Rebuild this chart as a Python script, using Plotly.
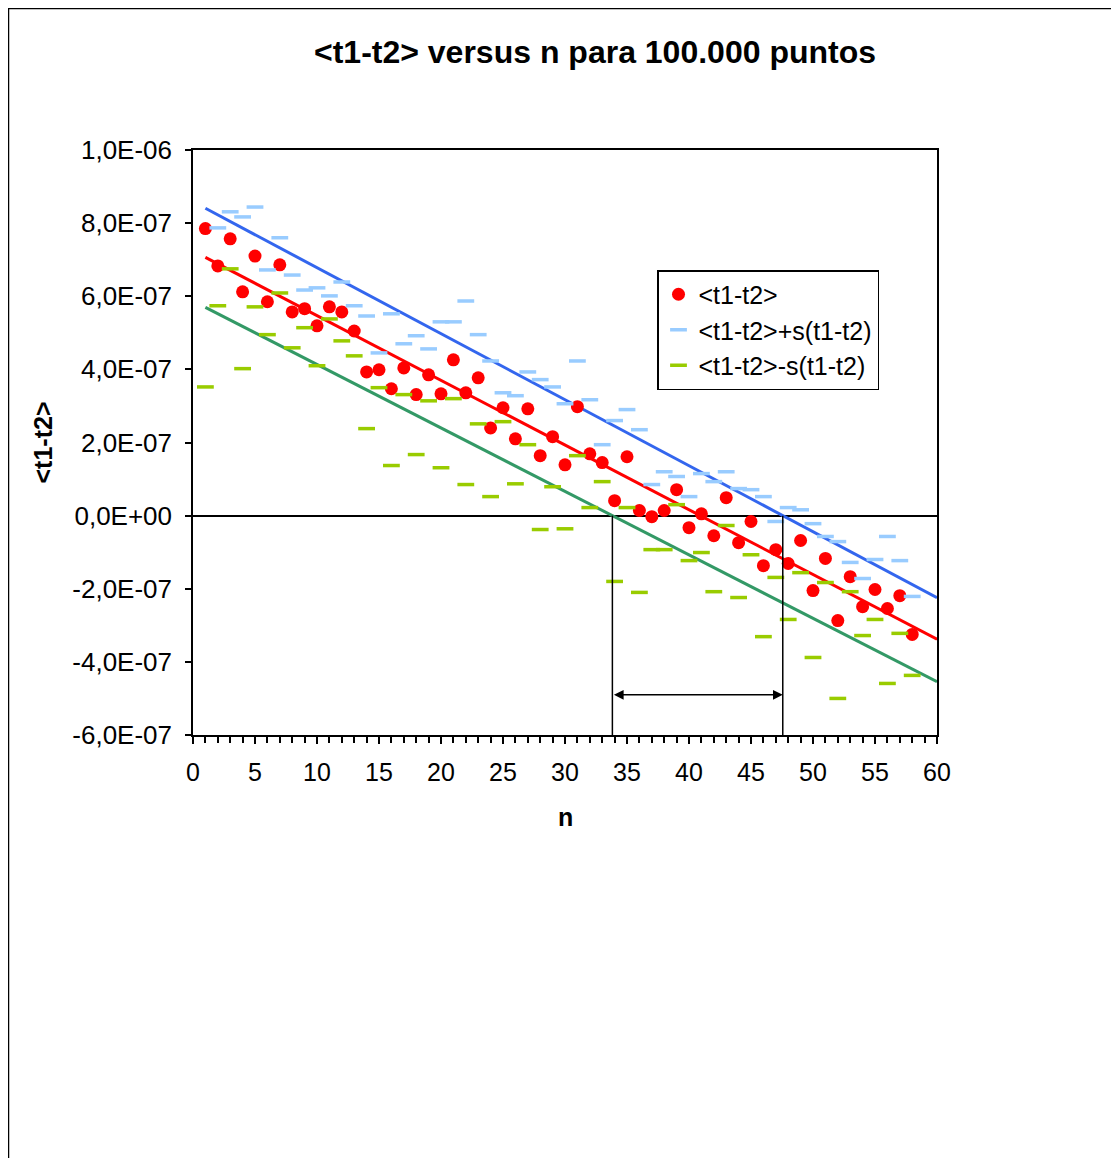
import numpy as np
import plotly.graph_objects as go

# ---- data (values in units of 1E-6) ----
n = list(range(1, 59))
mean_vals = [0.785, 0.683, 0.757, 0.612, 0.710, 0.585, 0.686, 0.557, 0.566, 0.519,
             0.571, 0.557, 0.505, 0.393, 0.399, 0.347, 0.404, 0.331, 0.385, 0.333,
             0.426, 0.336, 0.377, 0.240, 0.295, 0.210, 0.292, 0.164, 0.216, 0.139,
             0.298, 0.169, 0.145, 0.041, 0.161, 0.014, -0.003, 0.014, 0.071, -0.033,
             0.005, -0.055, 0.049, -0.074, -0.016, -0.137, -0.093, -0.131, -0.068, -0.205,
             -0.117, -0.287, -0.167, -0.249, -0.202, -0.254, -0.219, -0.325]
upper_vals = [1.218, 0.787, 0.831, 0.817, 0.844, 0.672, 0.760, 0.658, 0.617, 0.623,
              0.601, 0.639, 0.574, 0.546, 0.445, 0.552, 0.470, 0.492, 0.456, 0.530,
              0.530, 0.587, 0.495, 0.423, 0.336, 0.328, 0.393, 0.372, 0.352, 0.306,
              0.423, 0.317, 0.194, 0.260, 0.290, 0.235, 0.085, 0.120, 0.107, 0.052,
              0.115, 0.093, 0.120, 0.074, 0.071, 0.052, -0.016, 0.022, 0.016, -0.022,
              -0.057, -0.071, -0.128, -0.172, -0.120, -0.057, -0.123, -0.221]
lower_vals = [0.352, 0.574, 0.675, 0.402, 0.571, 0.495, 0.609, 0.459, 0.514, 0.410,
              0.538, 0.478, 0.437, 0.238, 0.350, 0.137, 0.331, 0.167, 0.314, 0.131,
              0.320, 0.085, 0.251, 0.052, 0.257, 0.087, 0.194, -0.038, 0.079, -0.036,
              0.164, 0.022, 0.093, -0.180, 0.022, -0.210, -0.093, -0.093, 0.030, -0.123,
              -0.101, -0.208, -0.027, -0.224, -0.107, -0.331, -0.169, -0.284, -0.156, -0.388,
              -0.183, -0.500, -0.208, -0.328, -0.284, -0.459, -0.322, -0.437]
scale = 1e-6

y_tickvals = [1.0e-6, 8.0e-7, 6.0e-7, 4.0e-7, 2.0e-7, 0.0, -2.0e-7, -4.0e-7, -6.0e-7]
y_ticktext = ["1,0E-06", "8,0E-07", "6,0E-07", "4,0E-07", "2,0E-07", "0,0E+00",
              "-2,0E-07", "-4,0E-07", "-6,0E-07"]
x_tickvals = list(range(0, 61, 5))

arrow_y = -4.9e-7
trend_end = 60

nx = np.array(n, dtype=float)
mean = np.array(mean_vals) * scale
upper = np.array(upper_vals) * scale
lower = np.array(lower_vals) * scale


def fit(y):
    m, b = np.polyfit(nx, y, 1)
    return m, b


font_family = "Liberation Sans, Arial, sans-serif"

# page offset of the figure inside the browser page (body margin)
OFF = 8
W, H = 1119, 1158
PL, PR, PT, PB = 193 - OFF, 937 - OFF, 150 - OFF, 735 - OFF   # plot area in figure px
PW, PH = PR - PL, PB - PT

fig = go.Figure()

xt = np.array([1.0, trend_end])
fits = {}
for key, y, col in [("upper", upper, "#3366EE"), ("mean", mean, "#FF0000"), ("lower", lower, "#339966")]:
    m, b = fit(y)
    fits[key] = (m, b)
    fig.add_trace(go.Scatter(x=xt, y=m * xt + b, mode="lines",
                             line=dict(color=col, width=3), showlegend=False,
                             hoverinfo="skip"))

fig.add_trace(go.Scatter(x=n, y=mean, mode="markers", name="<t1-t2>",
                         marker=dict(color="#FF0000", size=13, symbol="circle")))
fig.add_trace(go.Scatter(x=n, y=upper, mode="markers", name="<t1-t2>+s(t1-t2)",
                         marker=dict(symbol="line-ew", size=12,
                                     line=dict(color="#99CCFF", width=3.5))))
fig.add_trace(go.Scatter(x=n, y=lower, mode="markers", name="<t1-t2>-s(t1-t2)",
                         marker=dict(symbol="line-ew", size=12,
                                     line=dict(color="#99CC00", width=3.5))))

# zero crossings of the lower and upper trendlines
xg = -fits["lower"][1] / fits["lower"][0]
xb = -fits["upper"][1] / fits["upper"][0]

shapes = []
for xv in (xg, xb):
    shapes.append(dict(type="line", xref="x", yref="y", x0=xv, x1=xv, y0=0, y1=-6e-7,
                       line=dict(color="black", width=1.5)))
# outer chart border (figure px -> paper coords)
bx0, bx1, by0, by1 = 0, W + 10, H + 10, 0
shapes.append(dict(type="rect", xref="paper", yref="paper",
                   x0=(bx0 - PL) / PW, x1=(bx1 - PL) / PW,
                   y0=(PB - by0) / PH, y1=(PB - by1) / PH,
                   line=dict(color="black", width=2.5)))

annotations = [
    dict(x=xb, y=arrow_y, ax=xg, ay=arrow_y, xref="x", yref="y", axref="x", ayref="y",
         text="", showarrow=True, arrowhead=2, arrowside="end+start", arrowsize=1.3,
         arrowwidth=1.5, arrowcolor="black", standoff=0, startstandoff=0),
    dict(text="<b>&lt;t1-t2&gt;</b>", xref="paper", yref="paper",
         x=(42 - 193) / 744, y=0.5, textangle=-90, showarrow=False,
         font=dict(family=font_family, size=25, color="black"),
         xanchor="center", yanchor="middle"),
    dict(text="<b>n</b>", xref="paper", yref="paper",
         x=0.5, y=(735 - 817) / 585, showarrow=False,
         font=dict(family=font_family, size=25, color="black"),
         xanchor="center", yanchor="middle"),
]

fig.update_layout(
    width=W, height=H,
    margin=dict(l=PL, r=W - PR, t=PT, b=H - PB),
    paper_bgcolor="white", plot_bgcolor="white",
    title=dict(text="<b>&lt;t1-t2&gt; versus n para 100.000 puntos</b>",
               x=(595 - OFF) / W, xanchor="center", y=1 - (52 - OFF) / H, yanchor="middle",
               yref="container", xref="container",
               font=dict(family=font_family, size=32, color="black")),
    font=dict(family=font_family, size=25, color="black"),
    showlegend=True,
    legend=dict(x=(657 - 193) / 744, y=(735 - 270) / 585, xanchor="left", yanchor="top",
                bordercolor="black", borderwidth=1.5, bgcolor="white",
                font=dict(family=font_family, size=25, color="black"),
                tracegroupgap=0, itemwidth=30),
    shapes=shapes,
    annotations=annotations,
)

fig.update_xaxes(range=[0, 60], tickvals=x_tickvals, ticks="outside", ticklen=7,
                 tickwidth=1.5, tickcolor="black", showline=True, linecolor="black",
                 linewidth=1.5, mirror=True, showgrid=False, zeroline=False,
                 ticklabelstandoff=7,
                 minor=dict(dtick=1, ticks="outside", ticklen=6, tickwidth=1.5,
                            tickcolor="black", showgrid=False),
                 tickfont=dict(family=font_family, size=25))
fig.update_yaxes(range=[-6e-7, 1e-6], tickvals=y_tickvals, ticktext=y_ticktext,
                 ticks="outside", ticklen=6, tickwidth=1.5, tickcolor="black",
                 showline=True, linecolor="black", linewidth=1.5, mirror=True,
                 ticklabelstandoff=8,
                 showgrid=False, zeroline=True, zerolinecolor="black", zerolinewidth=1.5,
                 tickfont=dict(family=font_family, size=26))

fig.write_html("out.html")
